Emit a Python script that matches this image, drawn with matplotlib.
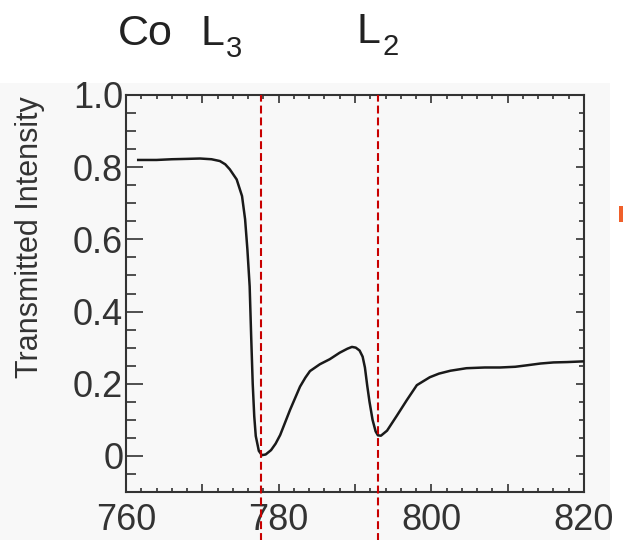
import matplotlib.pyplot as plt
from matplotlib.patches import Rectangle
from matplotlib.ticker import MultipleLocator, FixedLocator, FixedFormatter

plt.rcParams['font.family'] = ['Liberation Sans', 'DejaVu Sans']

# Co L-edge transmission spectrum
energy = [761.6, 764.0, 766.0, 768.0, 769.7, 771.2, 772.3, 773.0, 773.6, 774.5,
          775.2, 775.6, 775.9, 776.2, 776.4, 776.6, 776.8, 777.0, 777.4, 777.8,
          778.3, 779.0, 779.6, 780.2, 781.5, 782.8, 783.5, 784.1, 785.4, 786.7,
          788.0, 789.0, 789.6, 790.1, 790.6, 791.0, 791.3, 791.6, 791.9, 792.3,
          792.7, 793.0, 793.4, 794.2, 795.5, 796.8, 798.1, 799.8, 801.0, 802.5,
          804.6, 807.0, 809.0, 811.0, 812.5, 814.3, 816.0, 817.8, 820.0]
intensity = [0.820, 0.820, 0.822, 0.823, 0.824, 0.822, 0.817, 0.808, 0.794, 0.766,
             0.720, 0.656, 0.573, 0.470, 0.330, 0.200, 0.110, 0.055, 0.014, 0.002,
             0.004, 0.016, 0.034, 0.058, 0.128, 0.192, 0.217, 0.235, 0.254, 0.268,
             0.286, 0.297, 0.302, 0.300, 0.292, 0.275, 0.245, 0.195, 0.150, 0.100,
             0.068, 0.057, 0.056, 0.070, 0.112, 0.155, 0.196, 0.218, 0.228, 0.236,
             0.243, 0.245, 0.245, 0.247, 0.251, 0.256, 0.259, 0.260, 0.262]

edges = [777.7, 793.0]
x_ticks = [760, 770, 780, 790, 800, 810, 820]
x_labels = ['760', '', '780', '', '800', '', '820']
y_ticks = [0, 0.2, 0.4, 0.6, 0.8, 1.0]
y_labels = ['0', '0.2', '0.4', '0.6', '0.8', '1.0']

fig = plt.figure(figsize=(6.23, 5.4), dpi=100)
fig.patches.append(Rectangle((0, 0), 610 / 623, 1 - 83 / 540, transform=fig.transFigure,
                             facecolor='#f8f8f8', edgecolor='none', zorder=-10))
fig.patches.append(Rectangle((619 / 623, 1 - 222 / 540), 4 / 623, 16 / 540,
                             transform=fig.transFigure, facecolor='#f0602a',
                             edgecolor='none', zorder=-10))

ax = fig.add_axes([126 / 623, 1 - 492 / 540, 458 / 623, 397 / 540])
ax.set_facecolor('none')
ax.plot(energy, intensity, color='#1a1a1a', lw=1.8, zorder=3,
        solid_joinstyle='round')

for e in edges:
    ax.axvline(e, ymin=-0.13, ymax=1.0, color='#c80000', lw=1.5,
               ls=(0, (3.8, 1.9)), clip_on=False, zorder=4)

ax.set_xlim(760, 820)
ax.set_ylim(-0.1, 1.0)

ax.xaxis.set_major_locator(FixedLocator(x_ticks))
ax.xaxis.set_major_formatter(FixedFormatter(x_labels))
ax.xaxis.set_minor_locator(MultipleLocator(2))

ax.yaxis.set_major_locator(FixedLocator(y_ticks))
ax.yaxis.set_major_formatter(FixedFormatter(y_labels))
ax.yaxis.set_minor_locator(MultipleLocator(0.05))

ax.tick_params(axis='x', which='major', direction='in', length=6, width=1.2,
               top=True, labelsize=26, pad=8, colors='#333333')
ax.tick_params(axis='x', which='minor', direction='in', length=3, width=1.2,
               top=True, colors='#333333')
ax.tick_params(axis='y', which='major', direction='in', length=12, width=1.2,
               right=False, labelsize=26, pad=2, colors='#333333')
ax.tick_params(axis='y', which='minor', direction='in', length=7.5, width=1.2,
               right=False, colors='#333333')

# shorter ticks on the right-hand spine
sec = ax.secondary_yaxis('right')
sec.yaxis.set_major_locator(FixedLocator(y_ticks))
sec.yaxis.set_minor_locator(MultipleLocator(0.05))
sec.tick_params(which='major', direction='in', length=6, width=1.2, labelright=False,
                colors='#333333')
sec.tick_params(which='minor', direction='in', length=3.5, width=1.2, colors='#333333')
sec.spines['right'].set_visible(False)

for s in ax.spines.values():
    s.set_color('#333333')
    s.set_linewidth(1.5)

# axis title sits above the middle of the axis
fig.text(30 / 623, 1 - 237 / 540, 'Transmitted Intensity', fontsize=22, color='#333333',
         rotation=90, ha='center', va='center')

fig.text(118 / 623, 1 - 45 / 540, 'Co', fontsize=31, color='#222222', ha='left', va='baseline')
fig.text(201 / 623, 1 - 45 / 540, 'L', fontsize=31, color='#222222', ha='left', va='baseline')
fig.text(226 / 623, 1 - 57 / 540, '3', fontsize=21, color='#222222', ha='left', va='baseline')
fig.text(357 / 623, 1 - 43 / 540, 'L', fontsize=31, color='#222222', ha='left', va='baseline')
fig.text(382 / 623, 1 - 55 / 540, '2', fontsize=21, color='#222222', ha='left', va='baseline')

fig.savefig('out.png', dpi=100)
